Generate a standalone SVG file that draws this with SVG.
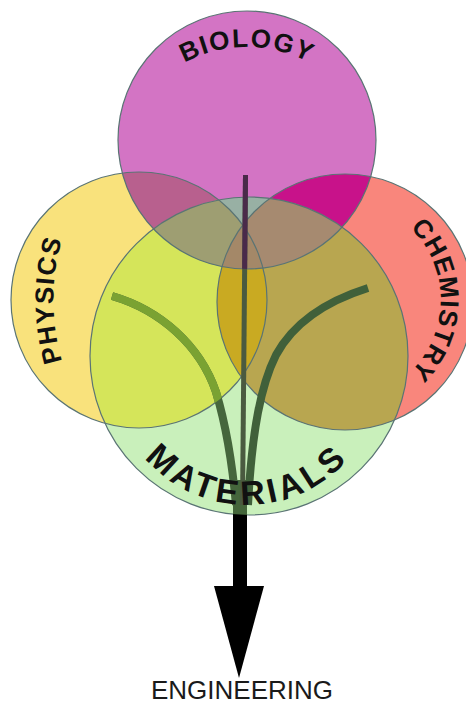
<svg xmlns="http://www.w3.org/2000/svg" width="466" height="707" viewBox="0 0 466 707">
<style>
.lbl{font-family:"Liberation Sans",Arial,sans-serif;font-weight:bold;fill:#111;}
.ring{fill:none;stroke:#5a7474;stroke-width:1.2;}
.stem{fill:none;stroke-linecap:butt;}
</style>
<defs>
<clipPath id="cB"><circle cx="247" cy="140" r="129"/></clipPath>
<clipPath id="cP"><circle cx="139" cy="300" r="128"/></clipPath>
<clipPath id="cC"><circle cx="345" cy="302" r="128"/></clipPath>
<clipPath id="cM"><circle cx="249" cy="356" r="159"/></clipPath>
<path id="pB" d="M147 93.4 A131 131 0 0 1 347 93.4"/>
<path id="pP" d="M73 390 A216 216 0 0 1 73 210"/>
<path id="pC" d="M372 205 A100 100 0 0 1 372 395"/>
<path id="pM" d="M137 448 A135 135 0 0 0 357 448"/>
<path id="stemL" d="M112 296 C160 310 200 345 216 392 C226 425 232 460 236 505"/>
<path id="stemR" d="M368 288 C330 300 295 320 276 355 C261 385 252 430 248 505"/>
<path id="stemC" d="M245.5 175 L242.5 505"/>
</defs>
<rect width="466" height="707" fill="#ffffff"/>
<g id="circles">
<circle id="materials-base" cx="249" cy="356" r="159" fill="#c9f0bb"/>
<circle id="physics-base" cx="139" cy="300" r="128" fill="#f9e27c"/>
<circle id="chemistry-base" cx="345" cy="302" r="128" fill="#f9867c"/>
<circle id="biology-base" cx="247" cy="140" r="129" fill="#d374c4"/>
<g clip-path="url(#cB)">
<circle cx="139" cy="300" r="128" fill="#b8608e"/>
<circle cx="345" cy="302" r="128" fill="#c8128a"/>
</g>
<g clip-path="url(#cM)">
<circle cx="139" cy="300" r="128" fill="#d5e55a"/>
<circle cx="345" cy="302" r="128" fill="#b8a650"/>
</g>
<g clip-path="url(#cB)">
<circle cx="249" cy="356" r="159" fill="#98b0a4"/>
</g>
<g clip-path="url(#cM)"><g clip-path="url(#cP)">
<circle cx="345" cy="302" r="128" fill="#c9aa22"/>
</g></g>
<g clip-path="url(#cB)"><g clip-path="url(#cM)">
<circle cx="139" cy="300" r="128" fill="#9e9e72"/>
<circle cx="345" cy="302" r="128" fill="#a68a70"/>
</g></g>
<g clip-path="url(#cB)"><g clip-path="url(#cM)"><g clip-path="url(#cP)">
<circle cx="345" cy="302" r="128" fill="#a48868"/>
</g></g></g>
<circle class="ring" cx="139" cy="300" r="128"/>
<circle class="ring" cx="345" cy="302" r="128"/>
<circle class="ring" cx="247" cy="140" r="129"/>
<circle class="ring" cx="249" cy="356" r="159"/>
</g>
<g id="connectors">
<rect x="233" y="490" width="14" height="100" fill="#000"/>
<polygon points="214,586 264,586 239,678" fill="#000"/>
<g clip-path="url(#cM)">
<rect x="233" y="480" width="14" height="40" fill="#44663a"/>
</g>
<use href="#stemL" class="stem" stroke="#45663c" stroke-width="8"/>
<use href="#stemR" class="stem" stroke="#40603a" stroke-width="8"/>
<use href="#stemC" class="stem" stroke="#4a5a40" stroke-width="5"/>
<g clip-path="url(#cP)">
<g clip-path="url(#cM)"><use href="#stemL" class="stem" stroke="#7aa232" stroke-width="8"/></g>
</g>
<g clip-path="url(#cB)">
<use href="#stemC" class="stem" stroke="#4a2a4a" stroke-width="5"/>
</g>
</g>
<g id="biology"><text class="lbl" font-size="26" letter-spacing="1.5"><textPath href="#pB" startOffset="50%" text-anchor="middle">BIOLOGY</textPath></text></g>
<g id="physics"><text class="lbl" font-size="26" letter-spacing="1.5"><textPath href="#pP" startOffset="50%" text-anchor="middle">PHYSICS</textPath></text></g>
<g id="chemistry"><text class="lbl" font-size="26" letter-spacing="1"><textPath href="#pC" startOffset="50%" text-anchor="middle">CHEMISTRY</textPath></text></g>
<g id="materials"><text class="lbl" font-size="34" letter-spacing="4"><textPath href="#pM" startOffset="50%" text-anchor="middle">MATERIALS</textPath></text></g>
<g id="engineering"><text x="242" y="699" font-family="'Liberation Sans',Arial,sans-serif" font-size="26" fill="#1a1a1a" text-anchor="middle">ENGINEERING</text></g>
</svg>
